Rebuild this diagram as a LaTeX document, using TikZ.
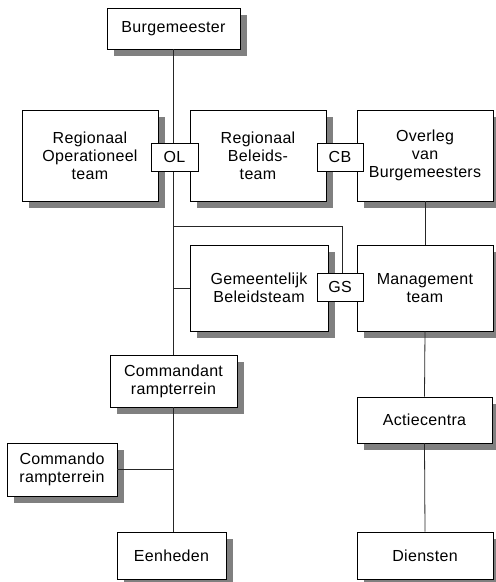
\documentclass[tikz,border=0pt]{standalone}
\usepackage{fontspec}
\setmainfont{Liberation Sans}[LetterSpace=2.0]
\usetikzlibrary{shadows}
\tikzset{
  box/.style={draw=black, line width=0.8pt, fill=white, align=center, inner sep=0pt,
    font=\fontsize{16}{18}\selectfont,
    drop shadow={shadow xshift=6.5pt, shadow yshift=-6.5pt, fill=black!50, opacity=1}},
  tag/.style={draw=black, line width=0.8pt, fill=white, align=center, inner sep=0pt,
    minimum width=46pt, minimum height=28pt, font=\fontsize{16}{18}\selectfont},
  conn/.style={draw=black!85, line width=0.8pt}
}
\begin{document}
\begin{tikzpicture}[x=1pt,y=-1pt]
\useasboundingbox (0,0) rectangle (496,582);
% main boxes
\node[box, minimum width=133pt, minimum height=41pt] (burg) at (173.5,28.5) {Burgemeester};
\node[box, minimum width=136pt, minimum height=91pt] (rot) at (90,155.5) {Regionaal\\Operationeel\\team};
\node[box, minimum width=136pt, minimum height=91pt] (rbt) at (258,155.5) {Regionaal\\Beleids-\\team};
\node[box, minimum width=136pt, minimum height=91pt] (ovb) at (425,155.5) {Overleg\\van\\Burgemeesters};
\node[box, minimum width=138pt, minimum height=86pt] (gbt) at (259,288) {Gemeentelijk\\Beleidsteam};
\node[box, minimum width=136pt, minimum height=86pt] (mgt) at (425,288) {Management\\team};
\node[box, minimum width=127pt, minimum height=52pt] (cmd) at (173.5,381) {Commandant\\rampterrein};
\node[box, minimum width=110pt, minimum height=53pt] (cro) at (62,469.5) {Commando\\rampterrein};
\node[box, minimum width=109pt, minimum height=47pt] (een) at (171.5,555.5) {Eenheden};
\node[box, minimum width=135pt, minimum height=46pt] (act) at (424.5,420) {Actiecentra};
\node[box, minimum width=136pt, minimum height=47pt] (die) at (425,555.5) {Diensten};
% connectors
\coordinate (j1) at (174,226);
\draw[conn] (burg.south) -- (cmd.north);
\draw[conn] (burg.south |- j1) -- (342,226) coordinate (j2);
\draw[conn] (gbt.west -| burg.south) -- (gbt.west);
\draw[conn] (ovb.south) -- (mgt.north);
\draw[conn] (mgt.south) -- (act.north);
\draw[conn] (act.south) -- (die.north);
\draw[conn] (cmd.south) -- (cmd.south |- een.north);
\draw[conn] (cro.east) -- (cro.east -| cmd.south);
% label boxes
\node[tag, minimum width=47pt] (ol) at (174.5,157) {OL};
\node[tag] (cb) at (340,157) {CB};
\node[tag] (gs) at (340,287) {GS};
\draw[conn] (j2) -- (j2 |- gs.north);
\end{tikzpicture}
\end{document}
